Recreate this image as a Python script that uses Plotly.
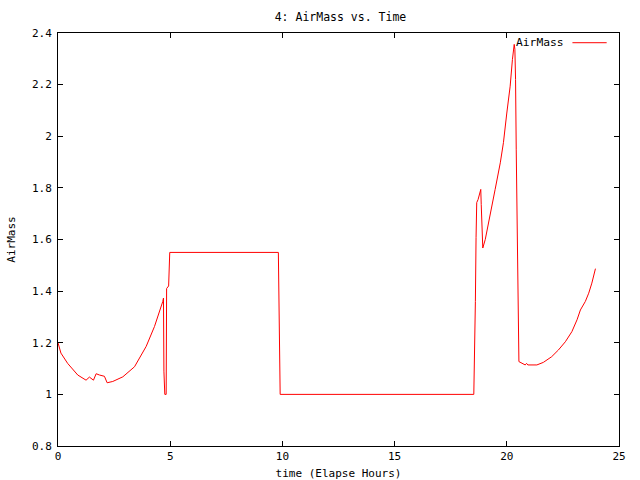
import plotly.graph_objects as go

time_hours = [0.0, 0.13, 0.43, 0.88, 1.25, 1.4, 1.58, 1.7, 1.85, 2.07, 2.19, 2.44, 2.89, 3.41, 3.93, 4.3, 4.67, 4.7,
              4.72, 4.76, 4.82, 4.84, 4.93, 4.98, 9.82, 9.9, 18.53,
              18.56, 18.6, 18.63, 18.66, 18.72, 18.78, 18.84, 18.86, 18.89, 18.93, 19.04, 19.26, 19.48, 19.71, 19.85,
              20.0, 20.15, 20.25, 20.33, 20.36, 20.39, 20.42, 20.46, 20.5, 20.54,
              20.82, 20.88, 20.94, 21.34, 21.63, 22.0, 22.3, 22.61, 22.9, 23.13, 23.28, 23.5, 23.65, 23.79, 23.95]
airmass = [1.20, 1.16, 1.12, 1.075, 1.055, 1.067, 1.055, 1.08, 1.075, 1.07, 1.045, 1.05, 1.068, 1.107, 1.186, 1.263, 1.36, 1.373,
           1.09, 1.0, 1.0, 1.41, 1.42, 1.55, 1.55, 1.0, 1.0,
           1.12, 1.36, 1.607, 1.743, 1.755, 1.774, 1.794, 1.736, 1.626, 1.567, 1.6, 1.69, 1.794, 1.897, 1.975,
           2.09, 2.194, 2.297, 2.356, 2.337, 2.22, 1.95, 1.64, 1.30, 1.127,
           1.114, 1.12, 1.114, 1.114, 1.124, 1.146, 1.172, 1.204, 1.243, 1.289, 1.327, 1.36, 1.392, 1.431, 1.487]

FONT = "DejaVu Sans Mono"

fig = go.Figure()
fig.add_trace(go.Scatter(x=time_hours, y=airmass, mode="lines", name="AirMass",
                         line=dict(color="#ff0000", width=1), showlegend=False))

fig.update_layout(
    width=640, height=480,
    margin=dict(l=58, r=21, t=33, b=34),
    paper_bgcolor="white", plot_bgcolor="white",
    font=dict(family=FONT, size=11, color="black"),
    title=dict(text="4: AirMass vs. Time", x=0.532, xanchor="center", y=0.965, yanchor="middle",
               font=dict(family=FONT, size=11.5, color="black")),
)
fig.update_xaxes(range=[0, 25], dtick=5, tick0=0, showgrid=False, zeroline=False, automargin=False,
                 showline=True, linecolor="black", linewidth=1, mirror="ticks",
                 ticks="inside", ticklen=5, tickcolor="black",
                 title=dict(text="time (Elapse Hours)", standoff=7, font=dict(size=11)))
fig.update_yaxes(range=[0.8, 2.4], dtick=0.2, tick0=0.8, showgrid=False, zeroline=False, automargin=False,
                 showline=True, linecolor="black", linewidth=1, mirror="ticks",
                 ticks="inside", ticklen=5, tickcolor="black", ticklabelstandoff=3,
                 title=dict(text="AirMass", standoff=14, font=dict(size=11)))

# gnuplot-style key: label followed by line sample, top-right inside plot
fig.add_annotation(text="AirMass", xref="paper", yref="paper", x=0.905, y=0.9765,
                   xanchor="right", yanchor="middle", showarrow=False,
                   font=dict(family=FONT, size=11.3, color="black"))
fig.add_shape(type="line", xref="paper", yref="paper", x0=0.917, x1=0.978, y0=0.9765, y1=0.9765,
              line=dict(color="#ff0000", width=1))

fig.write_html("out.html", config={"displayModeBar": False},
               post_script="document.body.style.margin='0';")
